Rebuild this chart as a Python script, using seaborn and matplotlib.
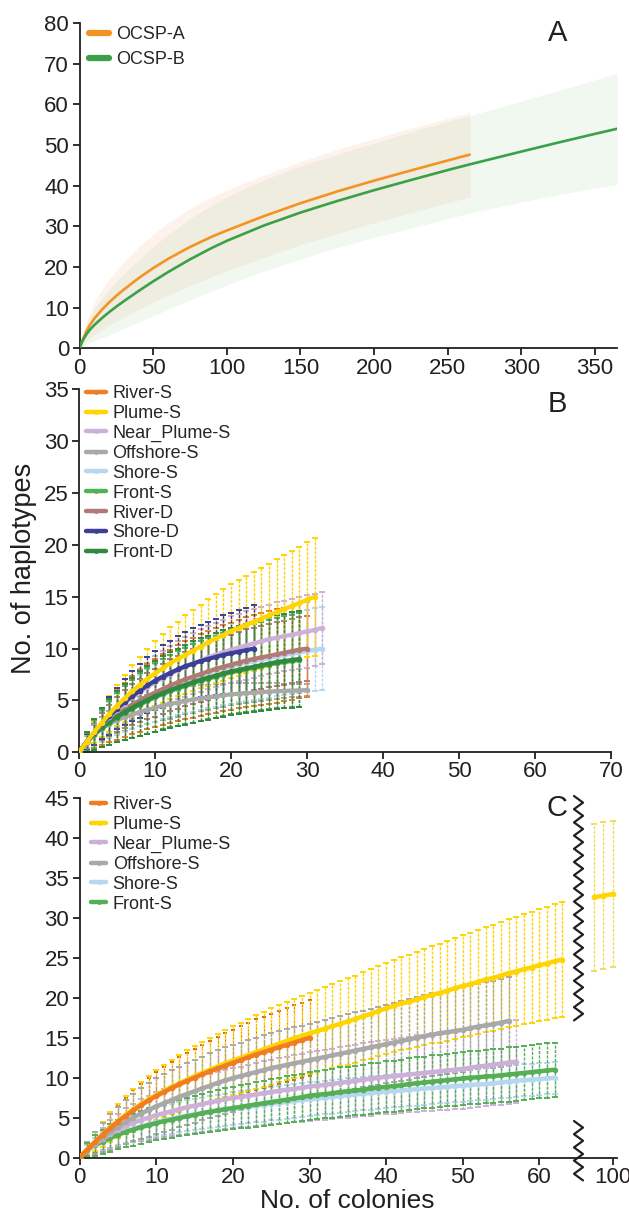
import numpy as np
import pandas as pd
import matplotlib
matplotlib.use("Agg")
import matplotlib.pyplot as plt
import seaborn as sns
from matplotlib.lines import Line2D

# ---------------- data: panel A (OCSP rarefaction, mean and CI band) ----------------
a_x_A = [0, 1, 2, 3, 5, 7, 10, 15, 20, 25, 30, 40, 50, 60, 75, 90, 100, 125, 150, 175, 200, 225, 250, 265]
a_mean_A = [0, 1.0, 1.95, 2.85, 4.4, 5.75, 7.3, 9.45, 11.3, 12.95, 14.45, 17.25, 19.75, 22.0, 24.95,
            27.5, 29.0, 32.5, 35.7, 38.6, 41.25, 43.75, 46.2, 47.65]
a_low_A = [0, 0.3, 0.8, 1.2, 1.9, 2.6, 3.4, 4.6, 5.7, 6.7, 7.7, 9.6, 11.4, 13.1, 15.5, 17.7,
           19.1, 22.4, 25.5, 28.3, 30.9, 33.4, 35.8, 37.3]
a_high_A = [0, 1.7, 3.1, 4.5, 6.9, 8.9, 11.2, 14.3, 16.9, 19.2, 21.2, 24.9, 28.1, 30.9, 34.4, 37.3,
            38.9, 42.6, 45.9, 48.9, 51.6, 54.1, 56.6, 58.0]

a_x_B = [0, 1, 2, 3, 5, 7, 10, 15, 20, 25, 30, 40, 50, 60, 75, 90, 100, 125, 150, 175, 200, 225,
         250, 265, 300, 325, 350, 365]
a_mean_B = [0, 1.0, 1.8, 2.5, 3.65, 4.6, 5.75, 7.4, 8.9, 10.3, 11.6, 14.1, 16.5, 18.75, 21.9, 24.75,
            26.45, 30.2, 33.4, 36.25, 38.9, 41.4, 43.85, 45.25, 48.4, 50.6, 52.75, 54.0]
a_low_B = [0, 0.2, 0.4, 0.6, 1.0, 1.4, 1.9, 2.6, 3.3, 4.1, 4.9, 6.5, 8.0, 9.6, 11.9, 14.2,
           15.6, 19.0, 22.0, 24.8, 27.3, 29.6, 31.9, 33.3, 36.0, 37.8, 39.4, 40.3]
a_high_B = [0, 1.8, 3.2, 4.4, 6.3, 7.8, 9.6, 12.2, 14.5, 16.5, 18.3, 21.7, 25.0, 27.9, 31.9, 35.3,
            37.3, 41.4, 44.8, 47.7, 50.5, 53.2, 55.8, 57.2, 60.8, 63.4, 66.0, 67.7]

# ---------------- data: panel B (means and CI half-widths at 0,1,2,... colonies) ----------------
b_names = ["River-S", "Plume-S", "Near_Plume-S", "Offshore-S", "Shore-S", "Front-S",
           "River-D", "Shore-D", "Front-D"]
b_river_s = [0, 1.0, 1.8, 2.5, 3.1, 3.6, 4.1, 4.55, 4.95, 5.35, 5.7, 6.05, 6.35, 6.65, 6.95,
             7.2, 7.45, 7.7, 7.9, 8.1, 8.3, 8.5, 8.7, 8.85, 9.0, 9.15, 9.3, 9.45, 9.6, 9.75, 9.9]
b_river_s_ci = [0, 0.9, 1.4, 1.8, 2.1, 2.4, 2.6, 2.8, 3.0, 3.15, 3.3, 3.45, 3.55, 3.65, 3.75,
                3.85, 3.95, 4.0, 4.1, 4.15, 4.2, 4.25, 4.3, 4.35, 4.4, 4.45, 4.5, 4.5, 4.55, 4.55, 4.6]
b_plume_s = [0, 1.0, 1.95, 2.85, 3.7, 4.5, 5.2, 5.9, 6.5, 7.1, 7.6, 8.1, 8.6, 9.0, 9.4,
             9.8, 10.2, 10.6, 11.0, 11.3, 11.7, 12.0, 12.3, 12.6, 12.9, 13.2, 13.5, 13.8, 14.1, 14.4,
             14.7, 15.0]
b_plume_s_ci = [0, 0.8, 1.1, 1.4, 1.7, 2.0, 2.3, 2.5, 2.7, 2.9, 3.1, 3.3, 3.5, 3.6, 3.8,
                3.9, 4.0, 4.2, 4.3, 4.4, 4.5, 4.6, 4.7, 4.8, 4.9, 5.0, 5.1, 5.2, 5.3, 5.4, 5.55, 5.7]
b_near_plume_s = [0, 1.0, 1.9, 2.7, 3.4, 4.1, 4.7, 5.3, 5.8, 6.3, 6.75, 7.15, 7.55, 7.9, 8.25,
                  8.55, 8.85, 9.15, 9.4, 9.65, 9.9, 10.1, 10.3, 10.5, 10.7, 10.9, 11.05, 11.2, 11.35,
                  11.5, 11.65, 11.8, 12.0]
b_near_plume_s_ci = [0, 0.7, 1.0, 1.3, 1.5, 1.7, 1.9, 2.05, 2.2, 2.35, 2.5, 2.6, 2.7, 2.8, 2.9,
                     2.95, 3.0, 3.05, 3.1, 3.15, 3.2, 3.25, 3.3, 3.3, 3.35, 3.35, 3.4, 3.4, 3.45,
                     3.45, 3.5, 3.5, 3.5]
b_offshore_s = [0, 1.0, 1.75, 2.3, 2.75, 3.1, 3.4, 3.65, 3.9, 4.1, 4.3, 4.5, 4.65, 4.8, 4.95,
                5.1, 5.2, 5.3, 5.4, 5.5, 5.6, 5.65, 5.7, 5.75, 5.8, 5.85, 5.9, 5.92, 5.95, 5.97, 6.0]
b_offshore_s_ci = [0, 0.6, 0.9, 1.1, 1.2, 1.3, 1.35, 1.4, 1.4, 1.4, 1.4, 1.4, 1.4, 1.35, 1.3,
                   1.3, 1.25, 1.2, 1.15, 1.1, 1.05, 1.0, 0.95, 0.9, 0.85, 0.8, 0.75, 0.7, 0.65, 0.6, 0.55]
b_shore_s = [0, 1.0, 1.8, 2.5, 3.1, 3.65, 4.15, 4.6, 5.0, 5.4, 5.75, 6.1, 6.4, 6.7, 6.95,
             7.2, 7.45, 7.7, 7.9, 8.1, 8.3, 8.5, 8.65, 8.8, 8.95, 9.1, 9.25, 9.4, 9.5, 9.65,
             9.75, 9.9, 10.0]
b_shore_s_ci = [0, 0.8, 1.2, 1.5, 1.75, 2.0, 2.2, 2.35, 2.5, 2.65, 2.8, 2.9, 3.0, 3.1, 3.2,
                3.3, 3.35, 3.4, 3.5, 3.55, 3.6, 3.65, 3.7, 3.75, 3.8, 3.85, 3.85, 3.9, 3.9, 3.95,
                3.95, 4.0, 4.0]
b_front_s = [0, 1.0, 1.7, 2.3, 2.85, 3.35, 3.8, 4.2, 4.6, 4.95, 5.3, 5.6, 5.9, 6.15, 6.4,
             6.65, 6.9, 7.1, 7.3, 7.5, 7.7, 7.85, 8.0, 8.15, 8.3, 8.45, 8.6, 8.7, 8.8, 8.9]
b_front_s_ci = [0, 0.9, 1.4, 1.8, 2.1, 2.4, 2.6, 2.8, 3.0, 3.15, 3.3, 3.4, 3.5, 3.6, 3.7,
                3.8, 3.85, 3.9, 3.95, 4.0, 4.05, 4.1, 4.15, 4.2, 4.25, 4.3, 4.35, 4.4, 4.45, 4.5]
b_river_d = [0, 1.0, 1.8, 2.5, 3.1, 3.65, 4.15, 4.6, 5.0, 5.4, 5.75, 6.1, 6.45, 6.75, 7.05,
             7.3, 7.55, 7.8, 8.05, 8.25, 8.45, 8.65, 8.85, 9.0, 9.15, 9.3, 9.45, 9.6, 9.75, 9.9, 10.0]
b_river_d_ci = [0, 0.7, 1.0, 1.3, 1.5, 1.7, 1.85, 2.0, 2.1, 2.2, 2.3, 2.4, 2.5, 2.55, 2.6,
                2.65, 2.7, 2.75, 2.8, 2.85, 2.9, 2.95, 3.0, 3.0, 3.05, 3.05, 3.1, 3.1, 3.1, 3.1, 3.1]
b_shore_d = [0, 1.0, 1.9, 2.75, 3.5, 4.2, 4.85, 5.4, 5.95, 6.45, 6.9, 7.3, 7.65, 8.0, 8.3,
             8.55, 8.8, 9.0, 9.2, 9.4, 9.55, 9.7, 9.85, 10.0]
b_shore_d_ci = [0, 0.8, 1.2, 1.5, 1.8, 2.0, 2.2, 2.4, 2.6, 2.7, 2.85, 3.0, 3.1, 3.2, 3.3,
                3.4, 3.5, 3.6, 3.7, 3.8, 3.9, 4.0, 4.1, 4.2]
b_front_d = [0, 1.0, 1.75, 2.4, 2.95, 3.45, 3.9, 4.3, 4.7, 5.05, 5.4, 5.7, 6.0, 6.25, 6.5,
             6.75, 7.0, 7.2, 7.4, 7.6, 7.8, 7.95, 8.1, 8.25, 8.4, 8.55, 8.7, 8.8, 8.9, 9.0]
b_front_d_ci = [0, 1.0, 1.5, 1.9, 2.2, 2.5, 2.7, 2.9, 3.1, 3.3, 3.45, 3.55, 3.65, 3.75, 3.85,
                3.95, 4.0, 4.05, 4.1, 4.15, 4.2, 4.25, 4.3, 4.35, 4.4, 4.45, 4.5, 4.55, 4.6, 4.65]

# ---------------- data: panel C ----------------
c_names = ["River-S", "Plume-S", "Near_Plume-S", "Offshore-S", "Shore-S", "Front-S"]
c_river_s = [0, 1.0, 1.95, 2.85, 3.7, 4.5, 5.2, 5.9, 6.55, 7.15, 7.7, 8.2, 8.7, 9.15, 9.6,
             10.0, 10.4, 10.8, 11.15, 11.5, 11.85, 12.2, 12.55, 12.9, 13.2, 13.5, 13.8, 14.1,
             14.4, 14.7, 15.0]
c_river_s_ci = [0, 0.8, 1.2, 1.5, 1.8, 2.05, 2.3, 2.5, 2.7, 2.85, 3.0, 3.15, 3.3, 3.45, 3.55,
                3.65, 3.75, 3.85, 3.95, 4.05, 4.15, 4.25, 4.3, 4.4, 4.45, 4.5, 4.55, 4.6, 4.65,
                4.7, 4.75]
c_plume_s = [0, 1.0, 1.97, 2.9, 3.8, 4.6, 5.35, 6.05, 6.7, 7.3, 7.85, 8.35, 8.85, 9.3, 9.75,
             10.2, 10.6, 11.0, 11.4, 11.8, 12.15, 12.5, 12.85, 13.2, 13.55, 13.9, 14.25, 14.6,
             14.95, 15.25, 15.55, 15.85, 16.15, 16.45, 16.75, 17.05, 17.35, 17.7, 18.0, 18.35,
             18.7, 19.0, 19.3, 19.5, 19.8, 20.1, 20.4, 20.6, 20.9, 21.2, 21.5, 21.7, 22.0, 22.3,
             22.5, 22.8, 23.1, 23.3, 23.6, 23.8, 24.1, 24.3, 24.6, 24.8]
c_plume_s_ci = [0, 0.8, 1.2, 1.55, 1.85, 2.1, 2.35, 2.55, 2.75, 2.95, 3.1, 3.25, 3.4, 3.55, 3.7,
                3.8, 3.9, 4.0, 4.1, 4.2, 4.3, 4.4, 4.5, 4.6, 4.7, 4.8, 4.85, 4.9, 4.95, 5.0,
                5.05, 5.1, 5.2, 5.25, 5.3, 5.4, 5.45, 5.5, 5.6, 5.65, 5.7, 5.8, 5.85, 5.9, 6.0,
                6.05, 6.1, 6.2, 6.25, 6.3, 6.4, 6.45, 6.5, 6.6, 6.65, 6.7, 6.8, 6.85, 6.9, 7.0,
                7.05, 7.1, 7.15, 7.2]
c_plume_tail_x = [98, 99, 100]
c_plume_tail = [32.6, 32.8, 33.0]
c_plume_tail_ci = [9.2, 9.2, 9.1]
c_near_plume_s = [0, 1.0, 1.7, 2.35, 2.95, 3.5, 3.95, 4.35, 4.7, 5.0, 5.3, 5.55, 5.8, 6.05, 6.3,
                  6.5, 6.7, 6.9, 7.1, 7.3, 7.45, 7.6, 7.75, 7.9, 8.05, 8.2, 8.35, 8.5, 8.6, 8.75,
                  8.9, 9.0, 9.1, 9.25, 9.35, 9.5, 9.6, 9.75, 9.85, 10.0, 10.1, 10.2, 10.3, 10.4,
                  10.5, 10.6, 10.7, 10.8, 10.9, 11.0, 11.1, 11.25, 11.4, 11.5, 11.65, 11.75, 11.9, 12.0]
c_near_plume_s_ci = [0, 0.7, 1.1, 1.4, 1.7, 2.0, 2.2, 2.4, 2.6, 2.75, 2.9, 3.0, 3.1, 3.2, 3.3,
                     3.4, 3.5, 3.55, 3.6, 3.7, 3.75, 3.8, 3.9, 3.95, 4.0, 4.05, 4.1, 4.15, 4.2,
                     4.25, 4.3, 4.35, 4.4, 4.4, 4.45, 4.5, 4.5, 4.55, 4.6, 4.6, 4.65, 4.7, 4.7,
                     4.75, 4.8, 4.8, 4.85, 4.9, 4.9, 4.95, 5.0, 5.0, 5.05, 5.1, 5.1, 5.15, 5.2, 5.2]
c_offshore_s = [0, 1.0, 1.8, 2.5, 3.2, 3.85, 4.45, 5.0, 5.5, 5.95, 6.4, 6.8, 7.2, 7.6, 7.95,
                8.3, 8.65, 9.0, 9.35, 9.65, 9.95, 10.2, 10.45, 10.7, 10.95, 11.2, 11.4, 11.6,
                11.8, 12.0, 12.2, 12.4, 12.6, 12.8, 13.0, 13.2, 13.4, 13.6, 13.8, 14.0, 14.2,
                14.4, 14.6, 14.8, 15.0, 15.2, 15.4, 15.55, 15.7, 15.85, 16.0, 16.2, 16.4, 16.55,
                16.7, 16.9, 17.1]
c_offshore_s_ci = [0, 0.9, 1.4, 1.8, 2.2, 2.5, 2.75, 2.95, 3.15, 3.35, 3.5, 3.6, 3.7, 3.8, 3.9,
                   3.95, 4.0, 4.05, 4.1, 4.15, 4.2, 4.2, 4.3, 4.3, 4.35, 4.4, 4.4, 4.45, 4.5,
                   4.5, 4.55, 4.6, 4.65, 4.7, 4.7, 4.75, 4.8, 4.8, 4.85, 4.9, 4.9, 4.95, 5.0,
                   5.05, 5.05, 5.1, 5.15, 5.2, 5.2, 5.25, 5.3, 5.3, 5.35, 5.4, 5.45, 5.5, 5.5]
c_shore_s = [0, 1.0, 1.6, 2.1, 2.55, 2.95, 3.3, 3.6, 3.9, 4.15, 4.45, 4.65, 4.85, 5.05, 5.25,
             5.4, 5.55, 5.7, 5.85, 6.0, 6.15, 6.25, 6.35, 6.5, 6.6, 6.75, 6.85, 6.95, 7.1, 7.2,
             7.3, 7.4, 7.5, 7.6, 7.7, 7.8, 7.9, 8.0, 8.1, 8.15, 8.25, 8.35, 8.4, 8.5, 8.55,
             8.65, 8.7, 8.8, 8.85, 8.95, 9.0, 9.1, 9.15, 9.2, 9.3, 9.4, 9.5, 9.6, 9.7, 9.75,
             9.85, 9.9, 10.0]
c_shore_s_ci = [0, 0.6, 0.9, 1.1, 1.3, 1.4, 1.5, 1.6, 1.65, 1.7, 1.75, 1.8, 1.85, 1.9, 1.9,
                1.95, 1.95, 2.0, 2.0, 2.0, 2.05, 2.05, 2.05, 2.1, 2.1, 2.1, 2.1, 2.1, 2.1, 2.1,
                2.1, 2.1, 2.1, 2.1, 2.1, 2.1, 2.1, 2.1, 2.1, 2.1, 2.05, 2.05, 2.05, 2.05, 2.05,
                2.05, 2.0, 2.0, 2.0, 2.0, 2.0, 2.0, 2.0, 2.0, 2.0, 2.0, 2.0, 2.0, 2.0, 2.0,
                2.0, 2.0, 2.0]
c_front_s = [0, 1.0, 1.55, 2.0, 2.45, 2.85, 3.2, 3.5, 3.8, 4.05, 4.3, 4.55, 4.75, 4.95, 5.15,
             5.35, 5.55, 5.75, 5.9, 6.05, 6.2, 6.35, 6.5, 6.65, 6.8, 6.95, 7.1, 7.25, 7.4, 7.55,
             7.75, 7.85, 7.95, 8.05, 8.2, 8.3, 8.4, 8.5, 8.65, 8.75, 8.85, 8.95, 9.05, 9.2, 9.3,
             9.4, 9.5, 9.6, 9.7, 9.8, 9.9, 10.0, 10.05, 10.15, 10.2, 10.3, 10.4, 10.5, 10.6,
             10.7, 10.8, 10.9, 11.0]
c_front_s_ci = [0, 0.8, 1.3, 1.5, 1.7, 1.8, 1.9, 2.0, 2.05, 2.1, 2.15, 2.2, 2.25, 2.3, 2.35,
                2.4, 2.45, 2.5, 2.55, 2.6, 2.65, 2.7, 2.75, 2.8, 2.8, 2.85, 2.9, 2.9, 2.95, 2.95,
                3.0, 3.0, 3.05, 3.05, 3.1, 3.1, 3.1, 3.15, 3.15, 3.15, 3.2, 3.2, 3.2, 3.25, 3.25,
                3.25, 3.3, 3.3, 3.3, 3.3, 3.3, 3.35, 3.35, 3.35, 3.35, 3.35, 3.4, 3.4, 3.4, 3.4,
                3.4, 3.4, 3.4]

# ---------------- styling ----------------
colors = {
    "River-S": "#f07d22", "Plume-S": "#ffd500", "Near_Plume-S": "#cdb0d8",
    "Offshore-S": "#a9a9a9", "Shore-S": "#b5d7ef", "Front-S": "#55b055",
    "River-D": "#b27a76", "Shore-D": "#3b3f98", "Front-D": "#2f8a3d",
}
col_A, col_B = "#f39325", "#3c9f4a"
INK = "#231f20"

sns.set_theme(style="ticks")
plt.rcParams["font.family"] = ["Liberation Sans", "DejaVu Sans"]
plt.rcParams["axes.edgecolor"] = INK
plt.rcParams["axes.linewidth"] = 1.3
plt.rcParams["xtick.color"] = INK
plt.rcParams["ytick.color"] = INK

W, H = 629, 1222
fig = plt.figure(figsize=(W / 100, H / 100), dpi=100)


def px_axes(left, right, top, bottom):
    return fig.add_axes([left / W, 1 - bottom / H, (right - left) / W, (bottom - top) / H])


def style(ax, xticks, yticks):
    sns.despine(ax=ax)
    ax.set_xticks(xticks)
    ax.set_yticks(yticks)
    ax.tick_params(axis="both", labelsize=16, length=5, width=1.3, colors=INK)
    ax.tick_params(axis="x", pad=1.5)
    ax.tick_params(axis="y", pad=2.5)
    ax.set_xlabel("")
    ax.set_ylabel("")


def draw_bars(ax, x, m, ci, color, z, lw=1.0, cap=2.2):
    eb = ax.errorbar(x, m, yerr=ci, fmt="none", ecolor=color, elinewidth=lw,
                     capsize=cap, capthick=1.4, zorder=z)
    for lc in eb[2]:
        lc.set_linestyle((0, (2.2, 1.0)))


def draw_line(ax, x, m, color, z, lw=3.0):
    sns.lineplot(x=np.asarray(x), y=np.asarray(m), ax=ax, color=color, lw=lw,
                 marker="o", markersize=4.0, markeredgewidth=0, estimator=None,
                 sort=False, zorder=z)


def handles_for(names):
    return [Line2D([0], [0], color=colors[n], lw=3.2, marker="o", markersize=3.5,
                   markeredgewidth=0) for n in names]


# ---------------- panel A ----------------
axA = px_axes(79.5, 617, 23, 348.5)
axA.fill_between(a_x_A, a_low_A, a_high_A, color="#f6b08a", alpha=0.16, lw=0, zorder=1)
axA.fill_between(a_x_B, a_low_B, a_high_B, color="#a6d7a4", alpha=0.17, lw=0, zorder=1)
dfA = pd.concat([
    pd.DataFrame({"x": a_x_A, "y": a_mean_A, "s": "OCSP-A"}),
    pd.DataFrame({"x": a_x_B, "y": a_mean_B, "s": "OCSP-B"}),
])
sns.lineplot(data=dfA, x="x", y="y", hue="s", palette={"OCSP-A": col_A, "OCSP-B": col_B},
             ax=axA, lw=1.9, estimator=None, sort=False, legend=False, zorder=3)
axA.set_xlim(0, 365)
axA.set_ylim(0, 80)
style(axA, range(0, 351, 50), range(0, 81, 10))
axA.legend(handles=[Line2D([0], [0], color=col_A, lw=4.5), Line2D([0], [0], color=col_B, lw=4.5)],
           labels=["OCSP-A", "OCSP-B"], loc="upper left", frameon=False, fontsize=13,
           bbox_to_anchor=(89 / W, 1 - 26 / H), bbox_transform=fig.transFigure,
           borderaxespad=0, borderpad=0, handlelength=1.1, handletextpad=0.42, labelspacing=0.47)

# ---------------- panel B ----------------
axB = px_axes(79, 611, 389.3, 752.3)
b_means = [b_river_s, b_plume_s, b_near_plume_s, b_offshore_s, b_shore_s, b_front_s,
           b_river_d, b_shore_d, b_front_d]
b_cis = [b_river_s_ci, b_plume_s_ci, b_near_plume_s_ci, b_offshore_s_ci, b_shore_s_ci,
         b_front_s_ci, b_river_d_ci, b_shore_d_ci, b_front_d_ci]
b_bar_order = ["Offshore-S", "Shore-S", "River-D", "Near_Plume-S", "River-S", "Plume-S",
               "Shore-D", "Front-S", "Front-D"]
b_line_order = ["River-S", "Offshore-S", "Shore-S", "Front-S", "River-D", "Front-D",
                "Near_Plume-S", "Shore-D", "Plume-S"]
b_data = {n: (m, c) for n, m, c in zip(b_names, b_means, b_cis)}
for i, n in enumerate(b_bar_order):
    m, c = b_data[n]
    draw_bars(axB, range(len(m)), m, c, colors[n], 2 + i * 0.01)
for i, n in enumerate(b_line_order):
    m, c = b_data[n]
    draw_line(axB, range(len(m)), m, colors[n], 4 + i * 0.01)
axB.set_xlim(0, 70)
axB.set_ylim(0, 35)
style(axB, range(0, 71, 10), range(0, 36, 5))
axB.legend(handles=handles_for(b_names), labels=b_names, loc="upper left",
           frameon=False, fontsize=13, bbox_to_anchor=(86 / W, 1 - 385 / H),
           bbox_transform=fig.transFigure, borderaxespad=0, borderpad=0,
           handlelength=1.1, handletextpad=0.35, labelspacing=0.16)

# ---------------- panel C (broken x axis) ----------------
axC = px_axes(79.7, 577.6, 798.3, 1157.5)
axC2 = px_axes(577.6, 617, 798.3, 1157.5)
c_means = [c_river_s, c_plume_s, c_near_plume_s, c_offshore_s, c_shore_s, c_front_s]
c_cis = [c_river_s_ci, c_plume_s_ci, c_near_plume_s_ci, c_offshore_s_ci, c_shore_s_ci, c_front_s_ci]
c_data = {n: (m, c) for n, m, c in zip(c_names, c_means, c_cis)}
c_bar_order = ["Shore-S", "Near_Plume-S", "River-S", "Plume-S", "Offshore-S", "Front-S"]
c_line_order = ["Shore-S", "Front-S", "Near_Plume-S", "Offshore-S", "Plume-S", "River-S"]
for i, n in enumerate(c_bar_order):
    m, c = c_data[n]
    if n == "River-S":
        draw_bars(axC, range(len(m)), m, c, "#d9601c", 2 + i * 0.01, lw=0.8, cap=1.5)
    else:
        draw_bars(axC, range(len(m)), m, c, colors[n], 2 + i * 0.01)
for i, n in enumerate(c_line_order):
    m, c = c_data[n]
    draw_line(axC, range(len(m)), m, colors[n], 4 + i * 0.01, lw=3.2)
axC.set_xlim(0, 65)
axC.set_ylim(0, 45)
style(axC, range(0, 61, 10), range(0, 46, 5))

draw_bars(axC2, c_plume_tail_x, c_plume_tail, c_plume_tail_ci, "#f5dc5a", 2)
draw_line(axC2, c_plume_tail_x, c_plume_tail, colors["Plume-S"], 4, lw=3.2)
axC2.set_xlim(96.27, 100.46)
axC2.set_ylim(0, 45)
style(axC2, [100], [])
axC2.spines["left"].set_visible(False)
axC2.tick_params(axis="y", left=False, labelleft=False)
axC2.patch.set_alpha(0)

axC.legend(handles=handles_for(c_names), labels=c_names, loc="upper left",
           frameon=False, fontsize=13, bbox_to_anchor=(91 / W, 1 - 796 / H),
           bbox_transform=fig.transFigure, borderaxespad=0, borderpad=0,
           handlelength=0.85, handletextpad=0.35, labelspacing=0.16)


# axis-break zigzags (decoration, figure pixel geometry)
def zigzag(y0, y1, xc=578.5, amp=4.5, step=6.6):
    ys = np.arange(y0, y1 + 0.01, step)
    xs = xc + amp * np.where(np.arange(len(ys)) % 2 == 0, -1, 1)
    fig.add_artist(Line2D(xs / W, 1 - ys / H, color=INK, lw=1.6, transform=fig.transFigure))


zigzag(796, 1026)
zigzag(1121, 1181)

# ---------------- text ----------------
fig.text(558 / W, 1 - 33 / H, "A", fontsize=21, ha="center", va="center", color=INK)
fig.text(557 / W, 1 - 404 / H, "B", fontsize=21, ha="center", va="center", color=INK)
fig.text(557 / W, 1 - 808 / H, "C", fontsize=21, ha="center", va="center", color=INK)
fig.text(24 / W, 1 - 568 / H, "No. of haplotypes", fontsize=19.5, rotation=90,
         ha="center", va="center", color=INK)
fig.text(347 / W, 1 - 1201 / H, "No. of colonies", fontsize=19, ha="center", va="center", color=INK)

fig.savefig("out.png", dpi=100)
